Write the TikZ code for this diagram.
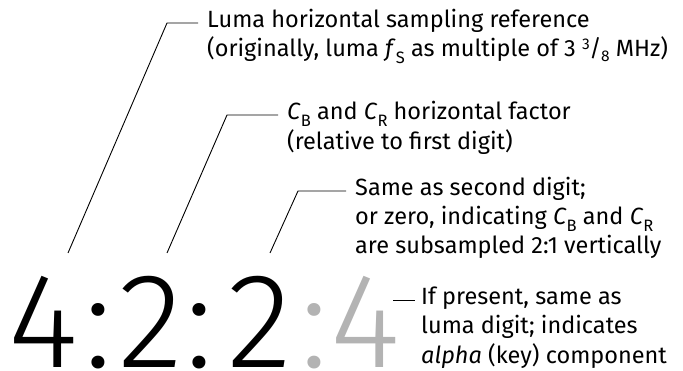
\documentclass[tikz,border=0pt]{standalone}
\usepackage{fontspec}
\setmainfont{Fira Sans}
\IfFontExistsTF{Fira Sans Light}{\newfontfamily\bigfont{Fira Sans Light}}{%
  \IfFontExistsTF{Lato Light}{\newfontfamily\bigfont{Lato Light}}{\newfontfamily\bigfont{Fira Sans}}}
\definecolor{lightgr}{HTML}{B3B3B3}
\newcommand\mysub[1]{\raisebox{-0.28em}{\fontsize{16.5}{16.5}\selectfont #1}}
\newcommand\myfrac{\raisebox{0.3em}{\fontsize{15.5}{15.5}\selectfont 3}\kern-0.5pt/\kern-0.5pt\raisebox{-0.18em}{\fontsize{15.5}{15.5}\selectfont 8}}
\begin{document}
\begin{tikzpicture}[x=1pt,y=-1pt,
  lbl/.style={anchor=base west,inner xsep=9pt,inner ysep=0pt,text height=15pt,text depth=5pt,font=\fontsize{23.5}{29}\selectfont},
  big/.style={anchor=base,inner sep=0pt,font=\bigfont\fontsize{135}{135}\selectfont},
  conn/.style={draw=black,line width=0.9pt}]
\useasboundingbox (0,0) rectangle (683,371);
% big digits
\node[big] (d1) at (43.5,368) {4};
\node[big] (c1) at (98,368) {:};
\node[big] (d2) at (151,368) {2};
\node[big] (c2) at (199,368) {:};
\node[big] (d3) at (260,368) {2};
\node[big,text=lightgr] (c3) at (314,368) {:};
\node[big,text=lightgr] (d4) at (365,368) {4};
% labels
\node[lbl] (t1a) at (198,28) {Luma horizontal sampling reference};
\node[lbl] (t1b) at (198,57) {(originally, luma \textit{f}\mysub{S} as multiple of 3 \myfrac\ MHz)};
\node[lbl] (t2a) at (278,120) {\textit{C}\mysub{B} and \textit{C}\mysub{R} horizontal factor};
\node[lbl] (t2b) at (278,150) {(relative to first digit)};
\node[lbl] (t3a) at (346,196) {Same as second digit;};
\node[lbl] (t3b) at (346,225) {or zero, indicating \textit{C}\mysub{B} and \textit{C}\mysub{R}};
\node[lbl] (t3c) at (346,254) {are subsampled 2:1 vertically};
\node[lbl,inner xsep=6pt] (t4a) at (415,305) {If present, same as};
\node[lbl,inner xsep=6pt] (t4b) at (415,334) {luma digit; indicates};
\node[lbl,inner xsep=6pt] (t4c) at (415,363) {\textit{alpha} (key) component};
% connectors
\coordinate (a1) at (68,253);
\coordinate (b1) at (167,23);
\coordinate (a2) at (167,253);
\coordinate (b2) at (227,115);
\coordinate (a3) at (270,253);
\coordinate (b3) at (298,191);
\coordinate (a4) at (393,300);
\draw[conn] (a1) -- (b1) -- (b1 -| t1a.west);
\draw[conn] (a2) -- (b2) -- (b2 -| t2a.west);
\draw[conn] (a3) -- (b3) -- (b3 -| t3a.west);
\draw[conn] (a4) -- (a4 -| t4a.west);
\end{tikzpicture}
\end{document}
